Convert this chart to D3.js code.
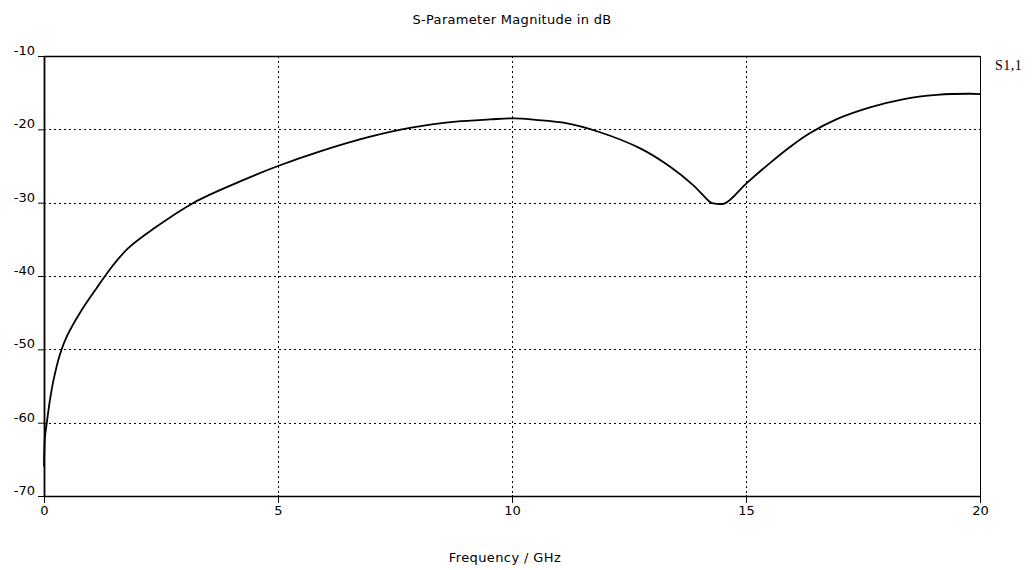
<!DOCTYPE html>
<html>
<head>
<meta charset="utf-8">
<script src="https://cdn.jsdelivr.net/npm/d3@7"></script>
<style>
  html, body { margin: 0; padding: 0; background: #fff; }
  svg { display: block; }
</style>
</head>
<body>
<svg id="chart" width="1035" height="570"></svg>
<script>
// S1,1 magnitude sweep, 0–20 GHz
const freqGHz = [0, 0.02, 0.06, 0.13, 0.2, 0.34, 0.49, 0.77, 1.13, 1.48, 1.8, 2.33, 3.2, 4.19, 5.0,
  5.9, 6.97, 7.82, 8.8, 9.53, 10.06, 10.5, 11.1, 11.88, 12.74, 13.38, 13.87, 14.23, 14.3, 14.55,
  15.02, 15.51, 15.94, 16.37, 16.94, 17.65, 18.35, 19.08, 19.79, 20];
const s11dB = [-66, -62, -60, -56.8, -54.3, -50.7, -48.2, -45.0, -41.6, -38.5, -36.2, -33.6, -30.0, -27.1, -25.0,
  -23.0, -21.0, -19.8, -18.95, -18.65, -18.5, -18.7, -19.1, -20.4, -22.6, -25.1, -27.6, -29.9, -30.1, -30.1,
  -27.3, -24.6, -22.4, -20.5, -18.6, -17.0, -15.9, -15.3, -15.15, -15.2];

const xTicks = [0, 5, 10, 15, 20];
const yTicks = [-10, -20, -30, -40, -50, -60, -70];

const chartTitle = "S-Parameter Magnitude in dB";
const xTitle = "Frequency / GHz";
const seriesName = "S1,1";

const svg = d3.select("#chart");
const plotL = 44, plotR = 980, plotT = 56, plotB = 496;

const x = d3.scaleLinear().domain([0, 20]).range([plotL, plotR]);
const y = d3.scaleLinear().domain([-70, -10]).range([plotB, plotT]);

const font = "'DejaVu Sans', Verdana, sans-serif";
const plainNum = d => String(d); // ASCII hyphen for negatives

// dotted grid
const grid = svg.append("g").attr("stroke", "#000").attr("stroke-width", 1)
  .attr("stroke-dasharray", "2,3");
grid.selectAll("line.h").data(yTicks.filter(v => v > -70 && v < -10)).join("line")
  .attr("x1", plotL).attr("x2", plotR)
  .attr("y1", d => Math.round(y(d)) + 0.5).attr("y2", d => Math.round(y(d)) + 0.5);
grid.selectAll("line.v").data(xTicks.filter(v => v > 0 && v < 20)).join("line")
  .attr("y1", plotT).attr("y2", plotB)
  .attr("x1", d => Math.round(x(d)) + 0.5).attr("x2", d => Math.round(x(d)) + 0.5);

// frame
svg.append("line").attr("x1", plotL).attr("x2", plotR).attr("y1", plotT + 0.5).attr("y2", plotT + 0.5)
  .attr("stroke", "#000").attr("stroke-width", 1.3);
svg.append("line").attr("x1", plotR + 0.5).attr("x2", plotR + 0.5).attr("y1", plotT).attr("y2", plotB)
  .attr("stroke", "#000").attr("stroke-width", 1);

// axes
const xAxis = d3.axisBottom(x).tickValues(xTicks).tickSize(7).tickPadding(3).tickFormat(plainNum);
const yAxis = d3.axisLeft(y).tickValues(yTicks).tickSize(6).tickPadding(3).tickFormat(plainNum);

const gx = svg.append("g").attr("transform", `translate(0,${plotB})`).call(xAxis);
const gy = svg.append("g").attr("transform", `translate(${plotL},0)`).call(yAxis);

[gx, gy].forEach(g => {
  g.select(".domain").remove();
  g.selectAll(".tick line").attr("stroke", "#000").attr("stroke-width", 1);
  g.selectAll(".tick text").attr("fill", "#000")
    .style("font-family", font).style("font-size", "13px");
});
gy.selectAll(".tick text").attr("dy", "-0.12em");
gx.selectAll(".tick line").attr("y1", -1);

svg.append("line").attr("x1", plotL).attr("x2", plotR).attr("y1", plotB + 0.5).attr("y2", plotB + 0.5)
  .attr("stroke", "#000").attr("stroke-width", 1.4);
svg.append("line").attr("x1", plotL + 0.5).attr("x2", plotL + 0.5).attr("y1", plotT).attr("y2", plotB + 1)
  .attr("stroke", "#000").attr("stroke-width", 1.8);

// curve
const pts = freqGHz.map((f, i) => [f, s11dB[i]]);
const line = d3.line().x(d => x(d[0])).y(d => y(d[1])).curve(d3.curveCatmullRom.alpha(0.5));
svg.append("path").datum(pts).attr("d", line)
  .attr("fill", "none").attr("stroke", "#000").attr("stroke-width", 1.8)
  .attr("stroke-linejoin", "round");

// titles
svg.append("text").attr("x", 512).attr("y", 24).attr("text-anchor", "middle")
  .style("font-family", font).style("font-size", "13px").style("letter-spacing", "0.3px")
  .text(chartTitle);
svg.append("text").attr("x", 505).attr("y", 562).attr("text-anchor", "middle")
  .style("font-family", font).style("font-size", "13px").style("letter-spacing", "0.4px")
  .text(xTitle);
svg.append("text").attr("x", 995).attr("y", 70)
  .style("font-family", "'Liberation Serif', 'DejaVu Serif', serif").style("font-size", "14px")
  .style("letter-spacing", "0.5px")
  .text(seriesName);
</script>
</body>
</html>
